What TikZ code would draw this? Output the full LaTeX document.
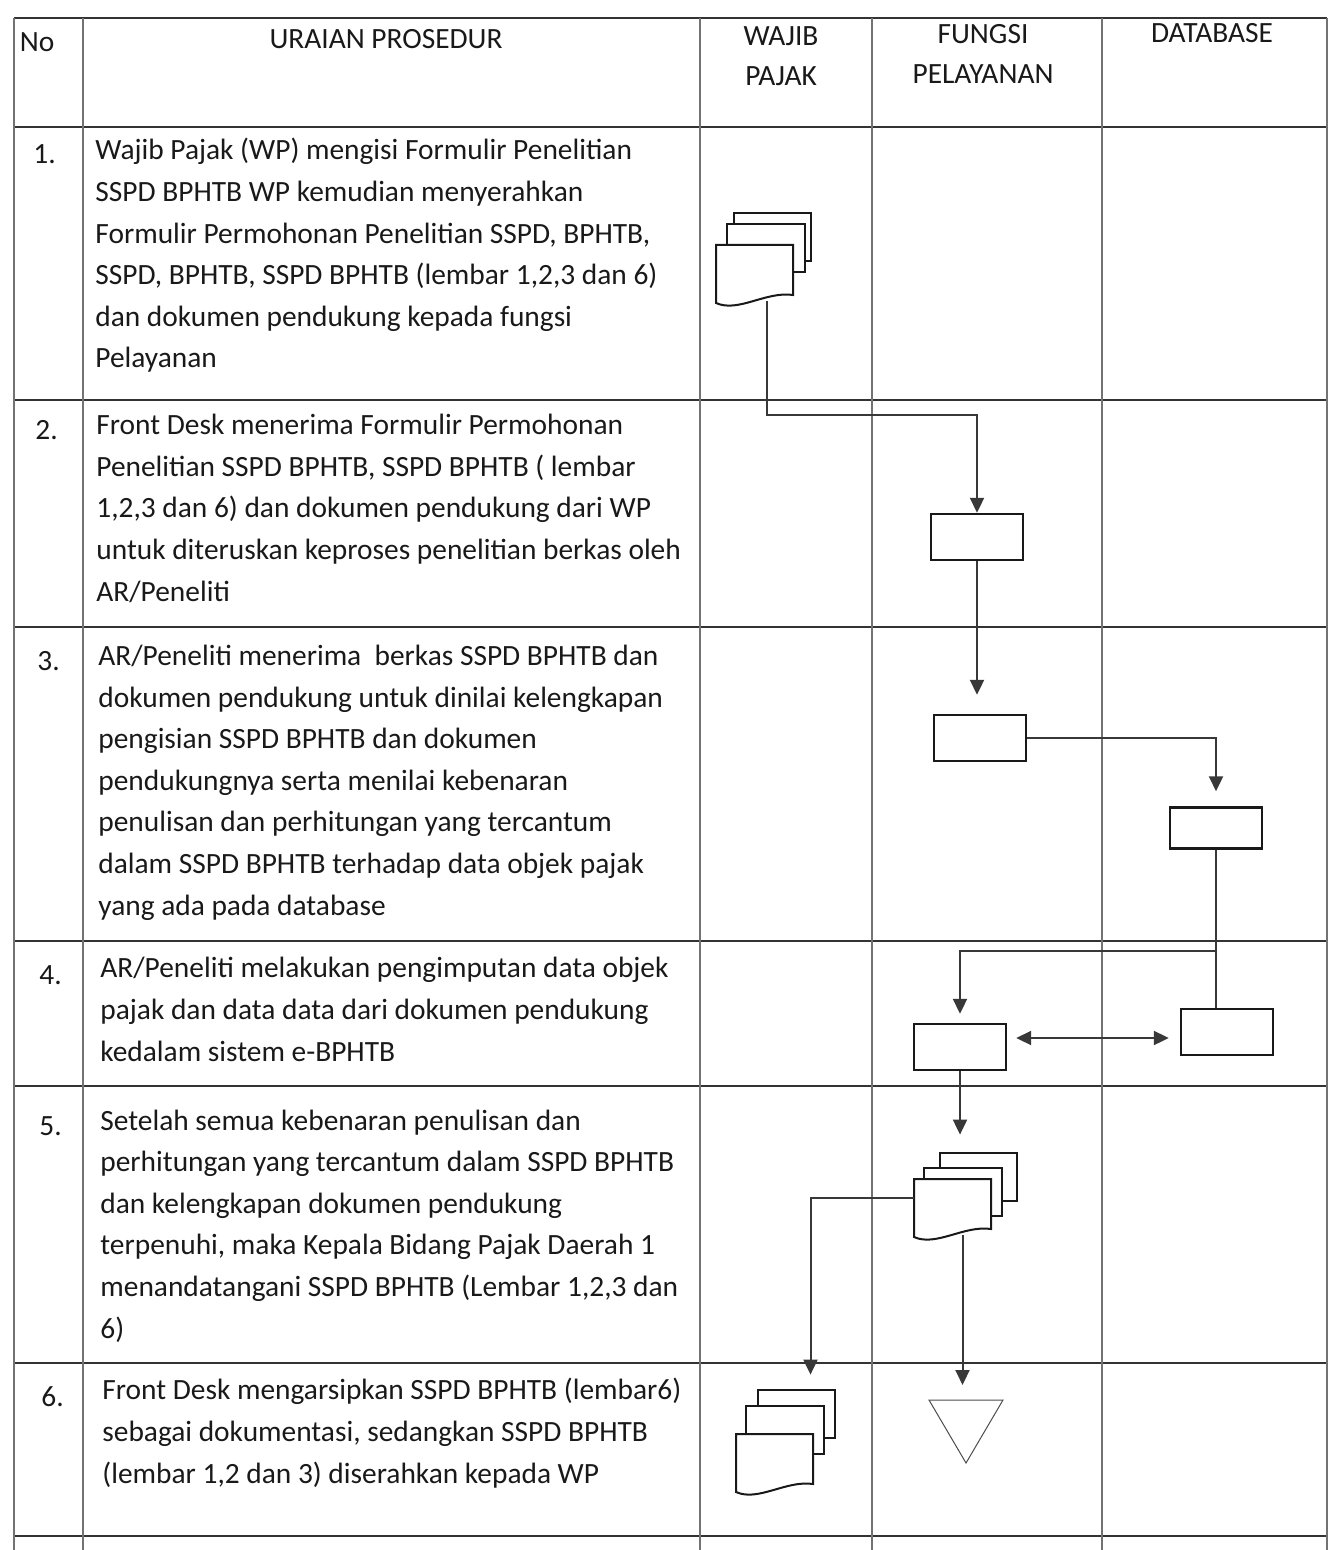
\documentclass[tikz,border=0pt]{standalone}
\usepackage{fontspec}
\setmainfont{Carlito}
\usetikzlibrary{arrows.meta}

% tumpukan dokumen: nama, pojok kiri atas lembar depan, geser lembar 2, geser lembar 3
\newcommand{\tumpukan}[4]{%
  \begin{scope}[shift={(#2)}]
    \draw[lembar] (#4) rectangle ++(77,48);
    \draw[lembar] (#3) rectangle ++(78,48);
    \draw[lembar] (0,0) -- (0,58) .. controls (22,68) and (50,46) .. (77,50) -- (77,0) -- cycle;
    \node[inner sep=0pt,minimum width=38.5pt,minimum height=28pt] (#1) at (38.5,28) {};
  \end{scope}
}

\begin{document}
\begin{tikzpicture}[x=0.5pt,y=-0.5pt,
  tulisan/.style={font=\fontsize{14.7pt}{20.8pt}\selectfont,text=black!90,inner sep=0pt},
  uraian/.style={tulisan,anchor=base west,align=left},% base = baris terakhir
  kepala/.style={tulisan,anchor=base,align=center,font=\fontsize{14.7pt}{20pt}\selectfont},
  kotak/.style={draw=black!90,line width=1.2pt,minimum width=46pt,minimum height=23pt,inner sep=0pt},
  lembar/.style={draw=black!90,line width=1pt,fill=white},
  alur/.style={draw=black!78,line width=1pt,->,>={Triangle[length=7.5pt,width=7pt]}},
  garis/.style={black!80,line width=0.7pt},
  kolom/.style={black!55,line width=0.6pt}]
\useasboundingbox (0,0) rectangle (1334,1550);
% tabel
\foreach \y in {18,127,400,627,941,1086,1363,1536} \draw[garis] (14,\y) -- (1327,\y);
\foreach \x in {14,83,700,872,1102,1327} \draw[kolom] (\x,18) -- (\x,1550);

% kepala tabel
\node[kepala] (hNo) at (37,52) {No};
\node[kepala] (hUraian) at (386,49) {URAIAN PROSEDUR};
\node[kepala] (hWajib) at (781,86) {WAJIB\\PAJAK};
\node[kepala] (hFungsi) at (983,84) {FUNGSI\\PELAYANAN};
\node[kepala] (hDb) at (1212,43) {DATABASE};

% nomor dan uraian
\node[uraian] (n1) at (33,164) {1.};
\node[uraian] (u1) at (95,368) {Wajib Pajak (WP) mengisi Formulir Penelitian\\
SSPD BPHTB WP kemudian menyerahkan\\
Formulir Permohonan Penelitian SSPD, BPHTB,\\
SSPD, BPHTB, SSPD BPHTB (lembar 1,2,3 dan 6)\\
dan dokumen pendukung kepada fungsi\\
Pelayanan};
\node[uraian] (n2) at (35,440) {2.};
\node[uraian] (u2) at (96,601) {Front Desk menerima Formulir Permohonan\\
Penelitian SSPD BPHTB, SSPD BPHTB ( lembar\\
1,2,3 dan 6) dan dokumen pendukung dari WP\\
untuk diteruskan keproses penelitian berkas oleh\\
AR/Peneliti};
\node[uraian] (n3) at (37,670) {3.};
\node[uraian] (u3) at (98,915) {AR/Peneliti menerima\ \ berkas SSPD BPHTB dan\\
dokumen pendukung untuk dinilai kelengkapan\\
pengisian SSPD BPHTB dan dokumen\\
pendukungnya serta menilai kebenaran\\
penulisan dan perhitungan yang tercantum\\
dalam SSPD BPHTB terhadap data objek pajak\\
yang ada pada database};
\node[uraian] (n4) at (39,984) {4.};
\node[uraian] (u4) at (100,1061) {AR/Peneliti melakukan pengimputan data objek\\
pajak dan data data dari dokumen pendukung\\
kedalam sistem e-BPHTB};
\node[uraian] (n5) at (39,1135) {5.};
\node[uraian] (u5) at (100,1338) {Setelah semua kebenaran penulisan dan\\
perhitungan yang tercantum dalam SSPD BPHTB\\
dan kelengkapan dokumen pendukung\\
terpenuhi, maka Kepala Bidang Pajak Daerah 1\\
menandatangani SSPD BPHTB (Lembar 1,2,3 dan\\
6)};
\node[uraian] (n6) at (41,1406) {6.};
\node[uraian] (u6) at (102,1483) {Front Desk mengarsipkan SSPD BPHTB (lembar6)\\
sebagai dokumentasi, sedangkan SSPD BPHTB\\
(lembar 1,2 dan 3) diserahkan kepada WP};

% simbol bagan alir
\tumpukan{wpForm}{716,245}{11,-21}{18,-32}
\node[kotak] (fpTerima) at (977,537) {};
\node[kotak] (fpTeliti) at (980,738) {};
\node[kotak,minimum height=20.5pt] (dbCek) at (1216,828) {};
\node[kotak] (fpInput) at (960,1047) {};
\node[kotak] (dbInput) at (1227,1032) {};
\tumpukan{fpSspd}{914,1179}{10,-11}{26,-26}
\tumpukan{wpArsip}{736,1434}{10,-28}{22,-44}
\draw[black!70,line width=0.5pt] (929,1400) -- (1003,1400) -- (966,1463) -- cycle;
\coordinate (arsip) at (966,1400);

% penghubung
\draw[alur] ([xshift=6.25pt]wpForm.south) -- ++(0,114) -| (fpTerima.north);
\draw[alur,shorten >=9.5pt] (fpTerima.south) -- (fpTerima.south |- fpTeliti.north);
\draw[alur,shorten >=7.5pt] (fpTeliti.east) -| (dbCek.north);
\draw[alur,-] (dbCek.south) -- (dbCek.south |- dbInput.north);
\coordinate (cabang) at (1216,951);
\draw[alur,shorten >=4.5pt] (cabang) -| (fpInput.north);
\coordinate (dua) at ([yshift=4.5pt]fpInput.east);
\draw[alur,<->,shorten <=4.5pt,shorten >=5.5pt] (dua) -- (dua -| dbInput.west);
\draw[alur,shorten >=22pt] (fpInput.south) -- (fpInput.south |- fpSspd.north);
\draw[alur,shorten >=29.5pt] ([yshift=4.5pt]fpSspd.west) -| ([xshift=18pt]wpArsip.north);
\coordinate (bawah) at ([xshift=5pt]fpSspd.south);
\draw[alur,shorten >=7.5pt] (bawah) -- (bawah |- arsip);
\end{tikzpicture}
\end{document}
